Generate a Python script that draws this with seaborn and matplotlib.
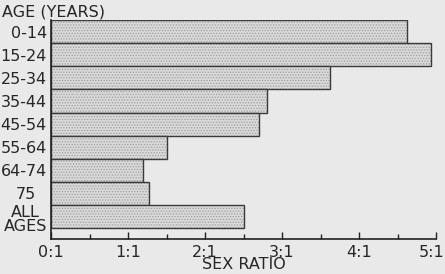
import matplotlib
matplotlib.use("Agg")
import matplotlib.pyplot as plt
import matplotlib.transforms as mtransforms
from matplotlib.ticker import MultipleLocator
import seaborn as sns
import pandas as pd

# --- Data ---
age_groups = ["0-14", "15-24", "25-34", "35-44", "45-54", "55-64", "64-74", "75", "ALL\nAGES"]
sex_ratio = [4.62, 4.94, 3.62, 2.80, 2.70, 1.51, 1.19, 1.27, 2.51]
tick_vals = [0, 1, 2, 3, 4, 5]
tick_labels = ["0:1", "1:1", "2:1", "3:1", "4:1", "5:1"]

df = pd.DataFrame({"age": age_groups, "ratio": sex_ratio})

sns.set_style("white")
plt.rcParams["font.family"] = ["DejaVu Sans"]
plt.rcParams["hatch.linewidth"] = 0.6

bg = "#e9e9e9"
fs = 11.5
fig = plt.figure(figsize=(4.45, 2.74), dpi=100, facecolor=bg)
W, H = 445, 274
ax = fig.add_axes([51 / W, 1 - 239 / H, (436 - 51) / W, (239 - 20) / H])
ax.set_facecolor(bg)

sns.barplot(data=df, x="ratio", y="age", orient="h", width=1.0,
            color="#d9d9d9", edgecolor="#3a3a3a", linewidth=1.0, ax=ax)
for p in ax.patches:
    p.set_hatch("......")
    p._hatch_color = (0.62, 0.62, 0.62, 1.0)

ax.set_xlim(0, 5)
ax.set_ylim(8.97, -0.5)
ax.set_xticks(tick_vals)
ax.set_xticklabels(tick_labels)
ax.xaxis.set_minor_locator(MultipleLocator(0.5))

for s in ["top", "right"]:
    ax.spines[s].set_visible(False)
for s in ["left", "bottom"]:
    ax.spines[s].set_color("#222222")
    ax.spines[s].set_linewidth(1.2)

ax.tick_params(axis="x", which="major", direction="in", length=5, width=1.0,
               color="#222222", labelsize=fs, pad=4, bottom=True)
ax.tick_params(axis="x", which="minor", direction="in", length=3.5, width=1.0,
               color="#222222", bottom=True)
ax.tick_params(axis="y", length=0, labelsize=fs, pad=3)

for lab in ax.get_yticklabels():
    lab.set_multialignment("center")
    lab.set_linespacing(0.95)
    if lab.get_text() == "75":
        lab.set_transform(lab.get_transform() +
                          mtransforms.ScaledTranslation(-11 / 100, 0, fig.dpi_scale_trans))
    if lab.get_text().startswith("ALL"):
        lab.set_transform(lab.get_transform() +
                          mtransforms.ScaledTranslation(0, -2 / 100, fig.dpi_scale_trans))
xlabs = ax.get_xticklabels()
xlabs[-1].set_transform(xlabs[-1].get_transform() +
                        mtransforms.ScaledTranslation(-4 / 100, 0, fig.dpi_scale_trans))

ax.set_xlabel("SEX RATIO", fontsize=fs, labelpad=-1.5)
ax.set_ylabel("")
fig.text(2 / W, 1 - 12 / H, "AGE (YEARS)", fontsize=fs, ha="left", va="center")

plt.savefig("out.png", dpi=100, facecolor=bg)
